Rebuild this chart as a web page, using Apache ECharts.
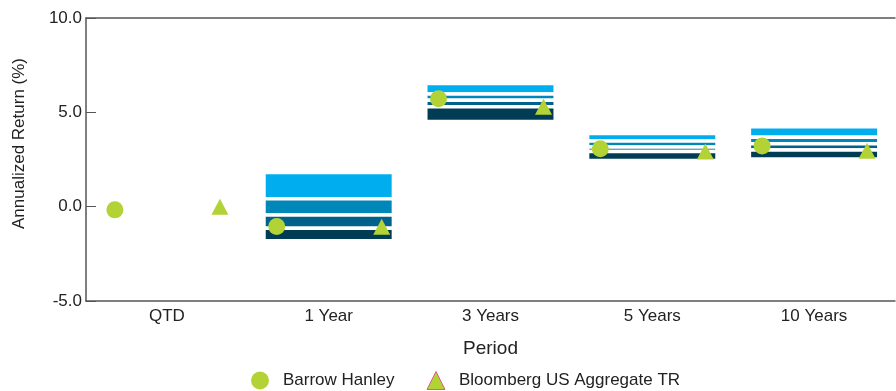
<!DOCTYPE html>
<html>
<head>
<meta charset="utf-8">
<script src="https://cdn.jsdelivr.net/npm/echarts@6/dist/echarts.min.js"></script>
<style>html,body{margin:0;padding:0;background:#fff}#c{width:896px;height:391px}</style>
</head>
<body>
<div id="c"></div>
<script>
var categories = ['QTD', '1 Year', '3 Years', '5 Years', '10 Years'];
// percentile range bands: [top, 25th, median, 75th, bottom]
var bandTop    = [null, 1.81, 6.53, 3.88, 4.23];
var band25     = [null, 0.42, 5.97, 3.48, 3.68];
var bandMedian = [null, -0.44, 5.64, 3.16, 3.33];
var band75     = [null, -1.14, 5.30, 2.93, 3.00];
var bandBottom = [null, -1.81, 4.52, 2.45, 2.52];
var barrowHanley = [-0.17, -1.05, 5.72, 3.07, 3.22];
var bloombergAgg = [0.0, -1.06, 5.30, 2.93, 2.97];
var yTicks = [-5, 0, 5, 10];

var bandColors = ['#00AEEF', '#0087B9', '#00628A', '#003C54'];
var green = '#B3D235';

var bandData = categories.map(function (c, i) {
  return [i, bandTop[i], band25[i], bandMedian[i], band75[i], bandBottom[i]];
}).filter(function (d) { return d[1] !== null; });

var chart = echarts.init(document.getElementById('c'), null, {renderer: 'canvas'});
var font = 'Liberation Sans, Arial, sans-serif';
chart.setOption({
  animation: false,
  grid: {left: 86, right: 1, top: 18, bottom: 90},
  legend: {
    top: 366, left: 246, itemWidth: 18, itemHeight: 18, itemGap: 32,
    textStyle: {fontFamily: font, fontSize: 17, color: '#222', padding: [0, 0, 0, 9]},
    data: [
      {name: 'Barrow Hanley', icon: 'circle', itemStyle: {color: green}},
      {name: 'Bloomberg US Aggregate TR', icon: 'triangle', itemStyle: {color: green, borderColor: '#D9607F', borderWidth: 1}}
    ]
  },
  xAxis: [{
    type: 'category', data: categories, position: 'bottom',
    name: 'Period', nameLocation: 'middle', nameGap: 38,
    nameTextStyle: {fontFamily: font, fontSize: 19, color: '#222'},
    axisLine: {onZero: false, lineStyle: {color: '#555', width: 1.5}},
    axisTick: {show: false},
    axisLabel: {fontFamily: font, fontSize: 17, color: '#222', margin: 7}
  }, {
    type: 'category', data: categories, position: 'top',
    axisLine: {show: true, onZero: false, lineStyle: {color: '#555', width: 1.5}},
    axisTick: {show: false}, axisLabel: {show: false}
  }],
  yAxis: {
    type: 'value', min: yTicks[0], max: yTicks[yTicks.length - 1], interval: 5,
    name: 'Annualized Return (%)', nameLocation: 'middle', nameGap: 58, nameRotate: 90,
    nameTextStyle: {fontFamily: font, fontSize: 17, color: '#222', padding: [0, 0, 0, 32]},
    axisLine: {show: true, lineStyle: {color: '#555', width: 1.5}},
    axisTick: {show: true, inside: true, length: 10, lineStyle: {color: '#555'}},
    splitLine: {show: false},
    axisLabel: {fontFamily: font, fontSize: 17, color: '#222', margin: 4,
      formatter: function (v) { return v.toFixed(1); }}
  },
  series: [{
    type: 'custom',
    name: 'Range',
    data: bandData,
    encode: {x: 0, y: [1, 5]},
    renderItem: function (params, api) {
      var idx = api.value(0);
      var w = api.size([1, 0])[0] * 0.8;
      var cx = api.coord([idx, 0])[0];
      var vals = [api.value(1), api.value(2), api.value(3), api.value(4), api.value(5)];
      var children = [];
      for (var k = 0; k < 4; k++) {
        var yTop = api.coord([idx, vals[k]])[1];
        var yBot = api.coord([idx, vals[k + 1]])[1];
        children.push({
          type: 'rect',
          shape: {x: cx - w / 2, y: yTop, width: w, height: yBot - yTop},
          style: {fill: bandColors[k], stroke: '#fff', lineWidth: 3.5}
        });
      }
      return {type: 'group', children: children};
    },
    z: 1
  }, {
    type: 'scatter', name: 'Barrow Hanley', data: barrowHanley,
    symbol: 'circle', symbolSize: 17, symbolOffset: [-52, 0],
    itemStyle: {color: green, opacity: 1}, z: 3
  }, {
    type: 'scatter', name: 'Bloomberg US Aggregate TR', data: bloombergAgg,
    symbol: 'triangle', symbolSize: [17, 16], symbolOffset: [53, 0],
    itemStyle: {color: green, opacity: 1}, z: 3
  }]
});
</script>
</body>
</html>
